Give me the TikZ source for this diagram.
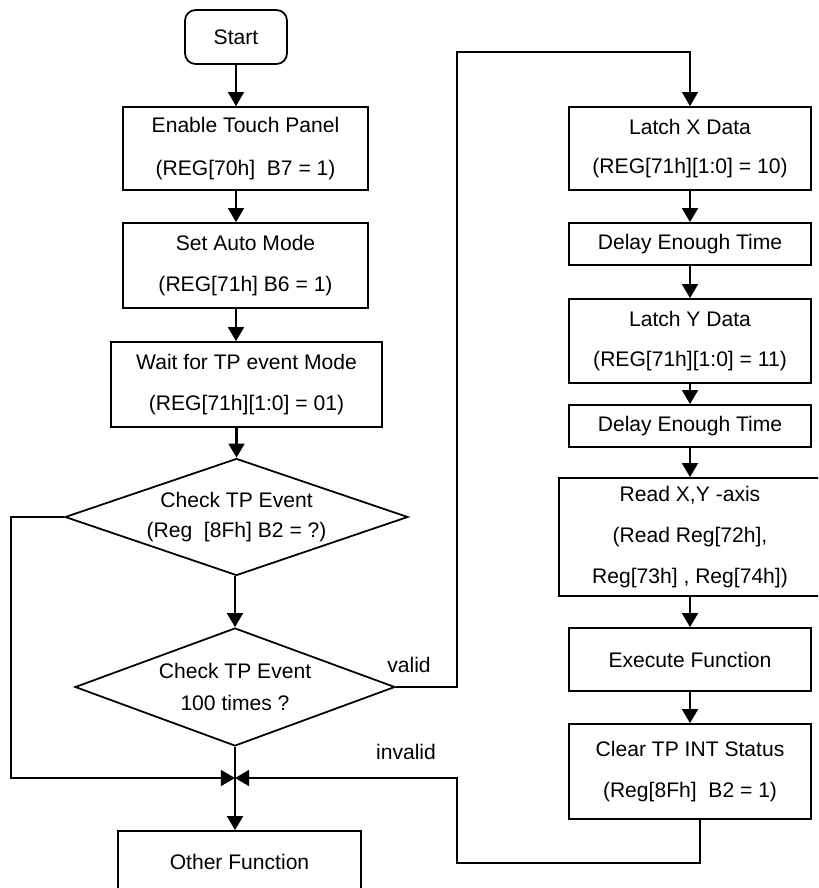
\documentclass[tikz,border=0pt]{standalone}
\usepackage{fontspec}
\setmainfont{Liberation Sans}
\usetikzlibrary{arrows.meta,shapes.geometric}

\begin{document}
\begin{tikzpicture}[x=0.02cm, y=-0.02cm,
  font=\fontsize{12}{14}\selectfont,
  box/.style={draw, line width=1pt, align=center, inner sep=0pt},
  decide/.style={draw, diamond, aspect=3, line width=1pt, align=center, inner sep=0pt},
  flow/.style={line width=1.4pt, -{Triangle[width=9pt,length=8pt]}},
  back/.style={line width=1.1pt, -{Triangle[width=9pt,length=8pt]}}]
  \path[use as bounding box, clip] (0,0) rectangle (818,888);

  % left column
  \node[box, rounded corners=6pt, minimum width=2.04cm, minimum height=1.08cm] (start) at (236,37) {Start};
  \node[box, minimum width=4.9cm, minimum height=1.66cm] (enable) at (245.5,148.5) {Enable Touch Panel\\[10.5pt](REG[70h]\ \ B7 = 1)};
  \node[box, minimum width=4.9cm, minimum height=1.7cm] (auto) at (245.5,265.5) {Set Auto Mode\\[9pt](REG[71h] B6 = 1)};
  \node[box, minimum width=5.42cm, minimum height=1.7cm] (wait) at (246.5,384.5) {Wait for TP event Mode\\[9pt](REG[71h][1:0] = 01)};
  \node[decide, minimum width=6.86cm, minimum height=2.34cm] (check) at (236.5,517) {Check TP Event\\[3.5pt](Reg\ \ [8Fh] B2 = ?)};
  \node[decide, minimum width=6.4cm, minimum height=2.36cm] (count) at (235,687) {Check TP Event\\[4pt]100 times ?};
  \coordinate (join) at (235,778);
  \node[box, minimum width=4.86cm, minimum height=1.24cm] (other) at (239.5,862) {Other Function};
  \node (valid) at (409,665) {valid};
  \node (invalid) at (406,752) {invalid};

  % right column
  \node[box, minimum width=4.84cm, minimum height=1.66cm] (latchx) at (690,148.5) {Latch X Data\\[8.5pt](REG[71h][1:0] = 10)};
  \node[box, minimum width=4.84cm, minimum height=0.84cm] (delaya) at (690,244) {Delay Enough Time};
  \node[box, minimum width=4.84cm, minimum height=1.68cm] (latchy) at (690,341) {Latch Y Data\\[8.5pt](REG[71h][1:0] = 11)};
  \node[box, minimum width=4.84cm, minimum height=0.84cm] (delayb) at (690,426) {Delay Enough Time};
  \node[box, minimum width=5.24cm, minimum height=2.36cm] (read) at (690,537) {Read X,Y -axis\\[9.5pt](Read Reg[72h],\\[9.5pt]Reg[73h] , Reg[74h])};
  \node[box, minimum width=4.84cm, minimum height=1.26cm] (exec) at (690,659.5) {Execute Function};
  \node[box, minimum width=4.84cm, minimum height=1.9cm] (clear) at (690,771.5) {Clear TP INT Status\\[9pt](Reg[8Fh]\ \ B2 = 1)};

  \draw[flow] (start.south) -- (start.south |- enable.north);
  \draw[flow] (enable.south -| start) -- (auto.north -| start);
  \draw[flow] (auto.south -| start) -- (wait.north -| start);
  \draw[flow] (wait.south -| check) -- (check.north);
  \draw[flow] (check.south -| join) -- (count.north);
  \draw[line width=1.4pt] (count.south) -- (join);
  \draw[flow] (join) -- (join |- other.north);
  \draw[back] (check.west) -- ++(-53,0) |- (join);
  \draw[back] (count.east) -| (457,52) -| (latchx.north);
  \draw[back] (clear.south) ++(10,0) -- ++(0,43) -| (457,778) -- (join);

  \foreach \a/\b in {latchx/delaya, delaya/latchy, latchy/delayb, delayb/read, read/exec, exec/clear}
    \draw[flow] (\a) -- (\b);
\end{tikzpicture}
\end{document}
